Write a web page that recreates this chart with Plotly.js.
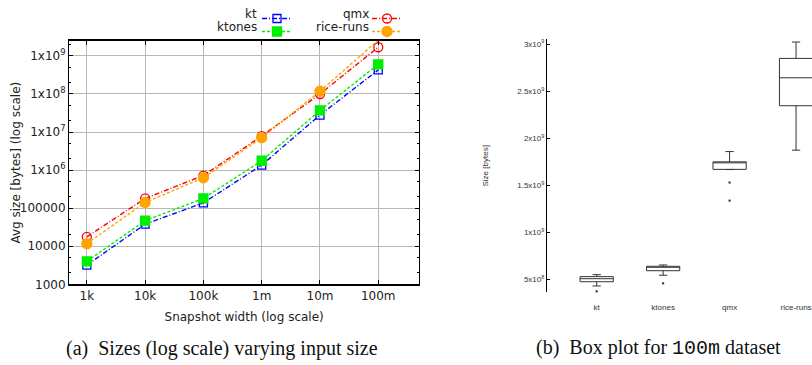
<!DOCTYPE html>
<html>
<head>
<meta charset="utf-8">
<script src="https://cdn.plot.ly/plotly-3.0.1.min.js"></script>
<style>html,body{margin:0;padding:0;background:#fff;}#chart{width:812px;height:365px;}</style>
</head>
<body>
<div id="chart"></div>
<script>
// ---- Data: left chart (avg size vs snapshot width, log-log) ----
const widths = [1e3, 1e4, 1e5, 1e6, 1e7, 1e8];
const widthLabels = ['1k', '10k', '100k', '1m', '10m', '100m'];
const ktSizes = [3200, 38000, 138000, 1.35e6, 2.8e7, 4.3e8];
const ktonesSizes = [4000, 47000, 180000, 1.76e6, 3.7e7, 6.0e8];
const qmxSizes = [17600, 180000, 7.2e5, 7.85e6, 1.0e8, 1.69e9];
const riceSizes = [11700, 141000, 6.3e5, 7.1e6, 1.18e8, 2.6e9];
const sizeTickVals = [1e3, 1e4, 1e5, 1e6, 1e7, 1e8, 1e9];
const sizeTickText = ['1000', '10000', '100000', '1x10<sup>6</sup>', '1x10<sup>7</sup>', '1x10<sup>8</sup>', '1x10<sup>9</sup>'];

// ---- Data: right chart (box plot, 100m dataset) ----
const boxCats = ['kt', 'ktones', 'qmx', 'rice-runs'];
const boxLower = [4.29e8, 5.43e8, 1.666e9, 1.872e9];
const boxQ1 = [4.74e8, 5.91e8, 1.668e9, 2.344e9];
const boxMedian = [5.06e8, 6.28e8, 1.74e9, 2.641e9];
const boxQ3 = [5.28e8, 6.38e8, 1.748e9, 2.847e9];
const boxUpper = [5.49e8, 6.52e8, 1.857e9, 3.021e9];
const outlierCats = ['kt', 'ktones', 'qmx', 'qmx'];
const outlierVals = [3.72e8, 4.57e8, 1.528e9, 1.336e9];
const boxTickVals = [5e8, 1e9, 1.5e9, 2e9, 2.5e9, 3e9];
const boxTickText = ['5x10<sup>8</sup>', '1x10<sup>9</sup>', '1.5x10<sup>9</sup>', '2x10<sup>9</sup>', '2.5x10<sup>9</sup>', '3x10<sup>9</sup>'];

const W = 812, H = 365;
const px = v => v / W;
const py = v => 1 - v / H;

const series = [
  {name: 'kt', y: ktSizes, color: '#0000ff', dash: '5px,2px,1px,2px', symbol: 'square-open', size: 8, legend: 'legend'},
  {name: 'ktones', y: ktonesSizes, color: '#00ee00', dash: '3px,2px', symbol: 'square', size: 9, legend: 'legend2'},
  {name: 'qmx', y: qmxSizes, color: '#ff0000', dash: '5px,2px,1px,2px', symbol: 'circle-open', size: 9, legend: 'legend3'},
  {name: 'rice-runs', y: riceSizes, color: '#ffa500', dash: '3px,2px', symbol: 'circle', size: 10, legend: 'legend4'}
];

const traces = series.map(s => ({
  type: 'scatter', mode: 'lines+markers', x: widths, y: s.y, name: '\u00a0',
  legend: s.legend, showlegend: true, cliponaxis: false,
  line: {color: s.color, width: 1.4, dash: s.dash},
  marker: {color: s.color, symbol: s.symbol, size: s.size, line: {color: s.color, width: 1.3}},
  xaxis: 'x', yaxis: 'y', hoverinfo: 'x+y'
}));

traces.push({
  type: 'box', x: boxCats, q1: boxQ1, median: boxMedian, q3: boxQ3,
  lowerfence: boxLower, upperfence: boxUpper, boxpoints: false,
  width: 0.5, whiskerwidth: 0.25, fillcolor: '#ffffff',
  line: {color: '#333333', width: 1}, showlegend: false,
  xaxis: 'x2', yaxis: 'y2'
});
traces.push({
  type: 'scatter', mode: 'markers', x: outlierCats, y: outlierVals,
  marker: {color: '#222222', size: 2, symbol: 'square'}, showlegend: false,
  xaxis: 'x2', yaxis: 'y2', cliponaxis: false
});

const legendBase = (x, y) => ({
  x: px(x), y: py(y), xanchor: 'left', yanchor: 'top', bgcolor: 'rgba(0,0,0,0)',
  borderwidth: 0, font: {size: 8}, itemwidth: 30, tracegroupgap: 0
});

const sans = 'DejaVu Sans, sans-serif';
const helv = 'Liberation Sans, Arial, sans-serif';
const layout = {
  width: W, height: H,
  margin: {l: 0, r: 0, t: 0, b: 0},
  paper_bgcolor: '#ffffff', plot_bgcolor: '#ffffff',
  font: {family: sans, size: 12, color: '#222'},
  showlegend: true,
  legend: legendBase(257, 4),
  legend2: legendBase(257, 17),
  legend3: legendBase(367, 4),
  legend4: legendBase(367, 17),
  xaxis: {
    type: 'log', domain: [px(69.3), px(419)], range: [Math.log10(500), Math.log10(5e8)],
    tickmode: 'array', tickvals: widths, ticktext: widthLabels,
    showgrid: true, gridcolor: '#b8b8b8', gridwidth: 1,
    showline: true, linecolor: '#000', linewidth: 1.3, mirror: 'ticks',
    ticks: 'inside', ticklen: 4, tickcolor: '#000', tickfont: {family: sans, size: 12, color: '#222'},
    zeroline: false, anchor: 'y', automargin: false,
    title: {text: 'Snapshot width (log scale)', font: {family: sans, size: 12, color: '#222'}, standoff: 10}
  },
  yaxis: {
    type: 'log', domain: [py(284.3), py(40.7)], range: [3, 9.4],
    tickmode: 'array', tickvals: sizeTickVals, ticktext: sizeTickText,
    showgrid: true, gridcolor: '#b8b8b8', gridwidth: 1,
    showline: true, linecolor: '#000', linewidth: 1.3, mirror: 'ticks',
    ticks: 'inside', ticklen: 4, tickcolor: '#000', tickfont: {family: sans, size: 12, color: '#222'},
    minor: {dtick: 'D2', ticks: 'inside', ticklen: 2, tickcolor: '#000', showgrid: false},
    zeroline: false, anchor: 'x', automargin: false
  },
  xaxis2: {
    type: 'category', domain: [px(547.3), 1], range: [-0.743, 3.24],
    showgrid: false, showline: false, ticks: '', zeroline: false,
    tickfont: {family: helv, size: 8, color: '#333'},
    ticklabelstandoff: 9, anchor: 'y2', automargin: false
  },
  yaxis2: {
    domain: [py(291.7), py(39.3)], range: [3.68e8, 3.05e9],
    tickmode: 'array', tickvals: boxTickVals, ticktext: boxTickText,
    showgrid: false, showline: true, linecolor: '#000', linewidth: 1.3,
    ticks: 'inside', ticklen: 3, tickcolor: '#000', zeroline: false,
    tickfont: {family: helv, size: 8, color: '#333'},
    anchor: 'x2', automargin: false
  },
  annotations: [
    {text: 'kt', x: px(259), y: py(14), xref: 'paper', yref: 'paper', xanchor: 'right', yanchor: 'middle', showarrow: false, font: {family: sans, size: 12, color: '#222'}},
    {text: 'ktones', x: px(259), y: py(27), xref: 'paper', yref: 'paper', xanchor: 'right', yanchor: 'middle', showarrow: false, font: {family: sans, size: 12, color: '#222'}},
    {text: 'qmx', x: px(371), y: py(14), xref: 'paper', yref: 'paper', xanchor: 'right', yanchor: 'middle', showarrow: false, font: {family: sans, size: 12, color: '#222'}},
    {text: 'rice-runs', x: px(371), y: py(27), xref: 'paper', yref: 'paper', xanchor: 'right', yanchor: 'middle', showarrow: false, font: {family: sans, size: 12, color: '#222'}},
    {text: 'Avg size [bytes] (log scale)', textangle: -90, x: px(15), y: py(162.5), xref: 'paper', yref: 'paper', xanchor: 'center', yanchor: 'middle', showarrow: false, font: {family: sans, size: 12, color: '#222'}},
    {text: 'Size [bytes]', textangle: -90, x: px(485), y: py(165.5), xref: 'paper', yref: 'paper', xanchor: 'center', yanchor: 'middle', showarrow: false, font: {family: helv, size: 8, color: '#333'}},
    {text: '(a)\u00a0 Sizes (log scale) varying input size', x: px(222), y: py(348), xref: 'paper', yref: 'paper', xanchor: 'center', yanchor: 'middle', showarrow: false, font: {family: 'Liberation Serif, serif', size: 20, color: '#111'}},
    {text: '(b)\u00a0 Box plot for <span style="font-family:Liberation Mono, monospace">100m</span> dataset', x: px(658), y: py(348), xref: 'paper', yref: 'paper', xanchor: 'center', yanchor: 'middle', showarrow: false, font: {family: 'Liberation Serif, serif', size: 20, color: '#111'}}
  ]
};

Plotly.newPlot('chart', traces, layout, {displayModeBar: false, staticPlot: true});
</script>
</body>
</html>
